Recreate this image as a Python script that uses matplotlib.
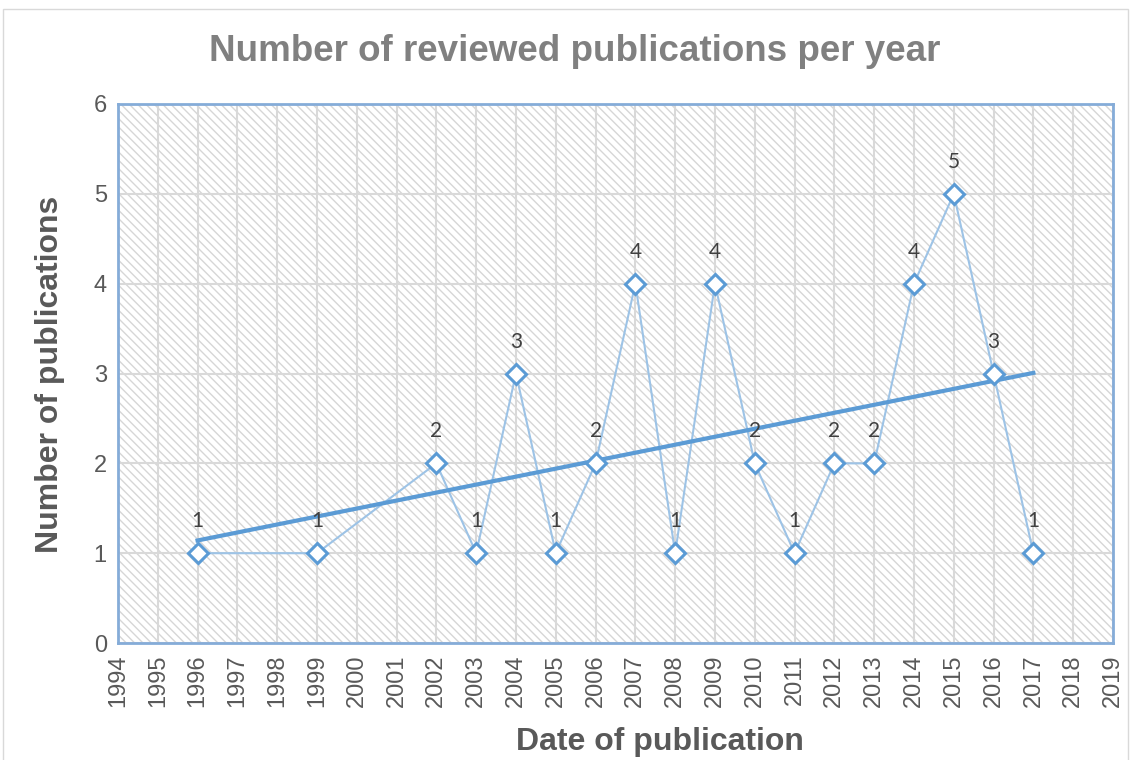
import numpy as np
import matplotlib.pyplot as plt
from matplotlib.patches import Rectangle

years = [1996, 1999, 2002, 2003, 2004, 2005, 2006, 2007, 2008,
         2009, 2010, 2011, 2012, 2013, 2014, 2015, 2016, 2017]
counts = [1, 1, 2, 1, 3, 1, 2, 4, 1, 4, 2, 1, 2, 2, 4, 5, 3, 1]
tick_years = list(range(1994, 2020))

plt.rcParams['font.family'] = ['Liberation Sans', 'DejaVu Sans']
plt.rcParams['hatch.linewidth'] = 1.0
plt.rcParams['hatch.color'] = '#d6d6d6'

fig = plt.figure(figsize=(11.32, 7.6), dpi=100)
ax = fig.add_axes([0.1042, 0.1539, 0.879, 0.7093])

# hatched plot area
ax.add_patch(Rectangle((0, 0), 1, 1, transform=ax.transAxes,
                       facecolor='white', edgecolor='#d6d6d6',
                       hatch='\\\\\\\\', linewidth=0, zorder=0))

ax.set_xlim(1994, 2019)
ax.set_ylim(0, 6)
ax.set_xticks(tick_years)
ax.set_xticklabels([str(y) for y in tick_years], rotation=90)
ax.set_yticks(range(0, 7))
ax.tick_params(axis='both', length=0, labelsize=17, colors='#595959', pad=8)
ax.grid(True, color='#d9d9d9', linewidth=1.5, zorder=1)
ax.set_axisbelow(True)
for s in ax.spines.values():
    s.set_color('#85acd8')
    s.set_linewidth(2)

# data series
ax.plot(years, counts, color='#9dc3e6', linewidth=1.5, zorder=3)
ax.plot(years, counts, linestyle='none', marker='D', markersize=10,
        markerfacecolor='white', markeredgecolor='#5b9bd5',
        markeredgewidth=2.2, zorder=5)

# linear trend line
k, b = np.polyfit(years, counts, 1)
tx = np.array([years[0], years[-1]])
ax.plot(tx, k * tx + b, color='#5b9bd5', linewidth=3, zorder=4)

for x, y in zip(years, counts):
    ax.annotate(str(y), (x, y), xytext=(0, 23), textcoords='offset points',
                ha='center', va='center', fontsize=15, color='#404040',
                family=['Lato', 'DejaVu Sans'], zorder=6)

fig.text(0.508, 0.932, 'Number of reviewed publications per year',
         ha='center', va='center', fontsize=26.5, fontweight='bold',
         color='#808080')
fig.text(0.583, 0.024, 'Date of publication', ha='center', va='center',
         fontsize=23, fontweight='bold', color='#595959')
fig.text(0.044, 0.508, 'Number of publications', ha='center', va='center',
         rotation=90, fontsize=23, fontweight='bold', color='#595959')

# outer chart border
fig.add_artist(Rectangle((3 / 1132, -0.05), 1125 / 1132, 1.05 - 9 / 760,
                         transform=fig.transFigure, fill=False,
                         edgecolor='#d9d9d9', linewidth=1))

fig.savefig('out.png', dpi=100)
